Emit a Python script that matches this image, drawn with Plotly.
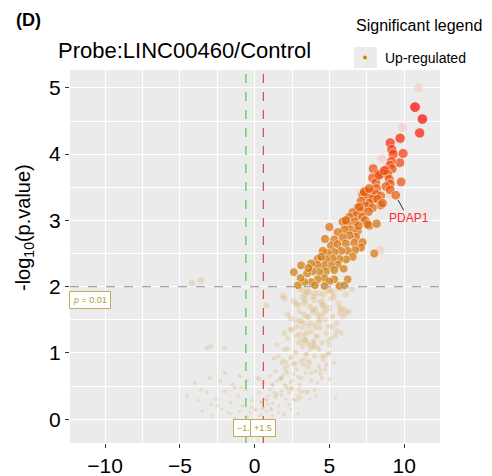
import plotly.graph_objects as go

# ---------------- data ----------------
# significant up-regulated genes: log2 fold change, -log10(p)
sig_x = [10.73, 11.22, 11.04,
         9.73, 9.07, 9.18, 9.27, 9.93, 9.71, 9.15, 9.05, 9.20, 8.78, 8.51, 7.93, 8.24, 8.89,
         9.00, 9.07, 8.78, 9.07, 9.80, 9.44, 7.89, 8.11, 8.16, 7.44, 7.78, 8.11, 8.44, 7.22,
         7.56, 7.89, 8.22, 8.44, 7.67, 7.11, 7.44, 7.89, 6.89, 7.18, 7.62, 6.56, 6.82, 6.33,
         7.22, 8.33, 8.67, 7.33, 7.67, 8.56, 7.40,
         7.67, 6.71, 6.22, 5.89, 6.44, 6.00, 5.56, 6.89, 6.78, 6.33, 5.89, 5.33, 4.71, 5.11,
         5.56, 6.11, 6.67, 7.22, 7.11, 6.71, 6.22, 5.78, 5.33, 4.89, 4.56, 6.56, 6.11, 5.67,
         5.22, 4.78, 4.22, 5.56, 5.11, 4.62, 4.18, 3.78, 4.78, 4.33, 3.89, 3.51, 2.62, 5.33,
         5.96, 6.22, 5.33, 4.67, 4.22, 3.78, 3.33, 3.07, 2.89, 5.00, 5.67, 6.00, 4.67, 4.04,
         8.00, 3.11, 8.16, 7.56, 6.10, 6.95, 7.00, 5.00, 4.45, 3.60]
sig_y = [4.71, 4.53, 4.32,
         4.24, 4.17, 4.07, 4.00, 4.01, 3.87, 3.89, 3.83, 3.78, 3.76, 3.71, 3.78, 3.70, 3.70,
         3.62, 3.55, 3.51, 3.46, 3.58, 3.38, 3.64, 3.57, 3.48, 3.44, 3.42, 3.40, 3.37, 3.39,
         3.34, 3.32, 3.32, 3.23, 3.26, 3.29, 3.22, 3.19, 3.19, 3.14, 3.13, 3.12, 3.08, 3.05,
         3.05, 3.68, 3.75, 3.43, 3.48, 3.26, 3.00,
         2.92, 2.98, 2.94, 2.98, 2.86, 2.86, 2.82, 2.84, 2.75, 2.77, 2.74, 2.71, 2.72, 2.62,
         2.64, 2.65, 2.66, 2.67, 2.59, 2.55, 2.54, 2.54, 2.52, 2.51, 2.54, 2.45, 2.41, 2.42,
         2.42, 2.41, 2.42, 2.33, 2.32, 2.32, 2.33, 2.35, 2.23, 2.22, 2.23, 2.20, 2.22, 2.25,
         2.27, 2.11, 2.11, 2.13, 2.11, 2.07, 2.07, 2.13, 2.02, 2.08, 2.01, 2.02, 2.01, 2.02,
         2.50, 2.32, 2.95, 2.94, 3.00, 2.92, 3.20, 2.90, 2.45, 2.28]

# faded (labelled, semi-transparent) points
faded_x = [10.96, 9.89, 8.51, 9.05, 8.40]
faded_y = [5.00, 4.40, 3.93, 3.39, 2.55]

# non-significant genes
ns_x = [2.0, 2.6, 3.2, 3.6, 4.0, 4.4, 3.7, 4.9, 5.3, 5.6, 6.1, 6.5, 3.0, 4.6, 5.0, 2.9,
        3.0, 3.5, 3.9, 4.3, 4.6, 5.2, 5.9, 5.5, 4.0, 3.3, 2.7, 4.9, 6.3, 5.7, 4.1, 3.6,
        2.5, 3.0, 3.4, 3.8, 4.2, 4.5, 4.8, 5.1, 5.5, 3.6, 2.9, 4.0, 2.2, 5.8, 4.4, 3.2, 5.0, 2.0,
        1.6, 2.0, 2.4, 2.8, 3.1, 3.4, 3.7, 4.0, 4.3, 4.6, 5.0, 5.3, 2.6, 3.2, 3.9, 1.8, 4.8, 2.2,
        0.6, 1.0, 1.4, 1.8, 2.2, 2.5, 2.8, 3.1, 3.4, 3.8, 4.1, 4.5, 1.2, 2.0, 3.0, 3.6, 0.2,
        -0.5, -1.5, -2.3, -3.0, -4.0, -3.6, -2.0, -1.0, 4.3,
        -4.5, -3.8, -3.2, -2.6, -2.0, -1.6, -1.1, -0.6, -0.2, 0.3, 0.7, 1.0, 1.4, 1.8, 2.1,
        2.5, 2.9, 3.3, 3.7, 1.6, 0.9, -2.9, -1.3, 2.3,
        -3.5, -2.8, -2.2, -1.6, -1.0, -0.5, 0.0, 0.4, 0.8, 1.2, 1.6, 2.0, 2.4, -0.2, 0.6,
        -1.3, 1.0, -0.8,
        -3.6, -3.2, -2.93, -2.0,
        3.3, 3.8, 4.2, 4.7, 3.5, 4.1, 4.5, 5.0, 3.1, 3.7, 4.4, 2.8, 3.3, 4.0, 2.4, 3.0, 3.5,
        2.6, 3.2, 1.5, 2.1, 2.7, 0.9, 1.3, 1.9, 3.5, 4.1, 5.4, 2.3, 3.9, 4.7, 5.2, 6.0, 3.4,
        4.2, 2.9, 3.6, 1.1, 0.3, 2.6, 3.3, 4.6,
        3.4, 3.9, 4.5, 5.1, 5.7, 2.4, 3.1, 4.8, 5.4, 3.7, 4.2, 2.7, 3.4, 4.0, 4.9, 2.1, 2.9,
        3.6, 4.4, 1.7, 2.4, 3.1, 1.4, 2.0, 2.6, 0.5, 1.1, 1.8, -0.3, 0.4, 1.3, -1.8, -0.9,
        -2.5, -4.2, 4.7, 5.5, 3.2, 2.2, 1.9,
        3.5, 4.3, 5.0, 5.8, 2.8, 3.3, 3.9, 4.6, 5.2, 2.4, 3.0, 3.6, 4.3, 4.9, 2.2, 2.8, 3.5,
        4.1, 4.7, 1.9, 2.5, 3.2, 3.8, 4.4, 1.5, 2.1, 2.8, 3.4, 4.0, 1.2, 1.8, 2.5, 3.1, 0.8,
        1.5, 2.2, 2.9, 0.5, 1.2, 1.9, 0.1, 0.8, 6.1, 5.6, 5.9, 4.0, 4.6, 3.0]
ns_y = [1.82, 1.78, 1.84, 1.93, 1.90, 1.76, 1.70, 1.95, 1.85, 1.75, 1.88, 1.96, 1.97, 1.72, 1.68, 1.72,
        1.63, 1.55, 1.62, 1.50, 1.60, 1.55, 1.55, 1.45, 1.42, 1.45, 1.50, 1.40, 1.62, 1.68, 1.66, 1.40,
        1.35, 1.28, 1.20, 1.32, 1.25, 1.15, 1.30, 1.22, 1.33, 1.12, 1.15, 1.10, 1.22, 1.30, 1.38, 1.38, 1.12, 1.30,
        0.95, 1.05, 0.92, 1.00, 0.88, 0.98, 0.85, 0.95, 1.05, 0.90, 1.00, 0.85, 0.82, 1.08, 1.08, 0.85, 0.82, 0.80,
        0.55, 0.65, 0.72, 0.60, 0.70, 0.58, 0.75, 0.62, 0.70, 0.58, 0.72, 0.62, 0.52, 0.78, 0.52, 0.78, 0.62,
        0.58, 0.52, 0.58, 0.62, 0.55, 0.45, 0.70, 0.65, 0.80,
        0.35, 0.28, 0.40, 0.30, 0.42, 0.25, 0.35, 0.45, 0.28, 0.40, 0.30, 0.45, 0.35, 0.42, 0.30,
        0.45, 0.35, 0.42, 0.30, 0.20, 0.22, 0.22, 0.48, 0.22,
        0.12, 0.05, 0.15, 0.08, 0.12, 0.04, 0.14, 0.06, 0.12, 0.05, 0.10, 0.08, 0.15, 0.18, 0.18,
        0.02, 0.00, 0.20,
        2.09, 1.07, 1.10, 1.08,
        0.90, 0.70, 0.55, 0.75, 0.40, 0.35, 0.95, 0.60, 1.20, 1.05, 1.55, 1.40, 1.75, 1.80, 0.55,
        0.45, 0.98, 0.68, 0.82, 1.12, 0.50, 0.28, 0.35, 0.92, 0.66, 1.16, 1.25, 0.32, 0.40, 1.18,
        1.50, 1.92, 1.65, 1.88, 1.58, 0.30, 0.42, 0.15, 0.60, 0.85, 1.27,
        1.88, 1.80, 1.85, 1.78, 1.82, 1.60, 1.52, 1.48, 1.64, 1.26, 1.45, 1.08, 1.02, 1.20, 1.16,
        0.98, 0.86, 0.64, 0.88, 0.68, 0.62, 0.46, 0.40, 0.33, 0.52, 0.30, 0.25, 0.16, 0.36, 0.10,
        0.26, 0.40, 0.10, 0.48, 0.20, 2.05, 2.08, 2.04, 1.95, 1.58,
        1.86, 1.92, 1.90, 1.94, 1.66, 1.74, 1.58, 1.66, 1.70, 1.40, 1.36, 1.48, 1.54, 1.46, 1.18,
        1.06, 1.26, 1.30, 1.38, 0.96, 0.88, 0.94, 1.14, 1.12, 0.74, 0.58, 0.72, 0.84, 0.82, 0.44,
        0.52, 0.62, 0.48, 0.32, 0.28, 0.38, 0.46, 0.08, 0.16, 0.24, 0.06, 0.14, 1.72, 1.60, 1.98,
        1.98, 2.02, 2.00]

x_ticks = [-10, -5, 0, 5, 10]
y_ticks = [0, 1, 2, 3, 4, 5]
fc_cut = 0.585   # log2(1.5)
p_cut = 2.0      # -log10(0.01)
label_gene = "PDAP1"
label_xy = (9.44, 3.38)
label_pos = (10.33, 3.03)

FONT = "Liberation Sans, Arial, sans-serif"
OFF = 8                       # page body margin of the html page
W, H = 492 - OFF, 476 - OFF   # figure size so the page fits the window
# panel in window pixels: left 70, right 440, top 70, bottom 443
L, T = 70 - OFF, 70 - OFF
R, B = W - (440 - OFF), H - (443 - OFF)
PW, PH = W - L - R, H - T - B


def px(xw):
    """window x pixel -> paper fraction"""
    return (xw - OFF - L) / PW


def py(yw):
    """window y pixel -> paper fraction"""
    return (H - B - (yw - OFF)) / PH


fig = go.Figure()

# non-significant cloud
fig.add_trace(go.Scatter(
    x=ns_x, y=ns_y, mode="markers", showlegend=False, hoverinfo="skip",
    marker=dict(color="#DDB163", opacity=0.28,
                size=[3.0 + 1.8 * v for v in ns_y], line=dict(width=0))))

# faded labelled points
fig.add_trace(go.Scatter(
    x=faded_x, y=faded_y, mode="markers", showlegend=False, hoverinfo="skip",
    marker=dict(color="#F2CBBE", opacity=0.6, size=9, line=dict(width=0))))

# significant up-regulated
fig.add_trace(go.Scatter(
    x=sig_x, y=sig_y, mode="markers", showlegend=False, name="Up-regulated",
    marker=dict(color=sig_y, cmin=2.0, cmax=4.6,
                colorscale=[[0, "#CC7E08"], [0.35, "#DE6A08"], [0.7, "#EE4C0E"], [1, "#FF0000"]],
                size=[8.5 + 0.8 * (v - 2) for v in sig_y],
                line=dict(color="white", width=0.7))))

# legend-only key
fig.add_trace(go.Scatter(
    x=[None], y=[None], mode="markers", name="Up-regulated", showlegend=True,
    marker=dict(color="#CC8800", size=4)))

# reference lines
fig.add_shape(type="line", xref="x", yref="paper", x0=-fc_cut, x1=-fc_cut, y0=0, y1=1,
              line=dict(color="#44CC44", width=1.2, dash="dash"), layer="above")
fig.add_shape(type="line", xref="x", yref="paper", x0=fc_cut, x1=fc_cut, y0=0, y1=1,
              line=dict(color="#E04A4A", width=1.2, dash="dash"), layer="above")
fig.add_shape(type="line", xref="paper", yref="y", x0=0, x1=1, y0=p_cut, y1=p_cut,
              line=dict(color="#A5A5A5", width=1.2, dash="dash"), layer="above")

# gene label leader line
fig.add_shape(type="line", xref="x", yref="y",
              x0=label_xy[0] + 0.15, y0=label_xy[1] - 0.07,
              x1=label_pos[0] - 0.35, y1=label_pos[1] + 0.12,
              line=dict(color="#333333", width=1))

# legend key background
fig.add_shape(type="rect", xref="paper", yref="paper",
              x0=px(354), x1=px(377), y0=py(68), y1=py(47),
              fillcolor="#EBEBEB", line=dict(width=0), layer="below")

box_font = dict(family=FONT, size=9, color="#B09A40")
fig.add_annotation(x=-11.0, y=1.80, xref="x", yref="y", text="<i>p</i> = 0.01", showarrow=False,
                   font=box_font, bgcolor="white", bordercolor="#C2AC5A", borderwidth=1, borderpad=3)
fig.add_annotation(x=-fc_cut, y=-0.14, xref="x", yref="y", text="−1.5", showarrow=False,
                   font=box_font, bgcolor="white", bordercolor="#C2AC5A", borderwidth=1, borderpad=3)
fig.add_annotation(x=fc_cut, y=-0.14, xref="x", yref="y", text="+1.5", showarrow=False,
                   font=box_font, bgcolor="white", bordercolor="#C2AC5A", borderwidth=1, borderpad=3)

fig.add_annotation(x=label_pos[0], y=label_pos[1], xref="x", yref="y", text=label_gene,
                   showarrow=False, font=dict(family=FONT, size=12, color="#FF2A2A"))

# titles
fig.add_annotation(x=px(14), y=py(20), xref="paper", yref="paper",
                   text="<b>(D)</b>", showarrow=False, xanchor="left", yanchor="middle",
                   font=dict(family=FONT, size=18, color="black"))
fig.add_annotation(x=px(25), y=py(228), xref="paper", yref="paper",
                   text="-log<sub>10</sub>(p.value)", showarrow=False, textangle=-90,
                   xanchor="center", yanchor="middle",
                   font=dict(family=FONT, size=20, color="black"))
fig.add_annotation(x=px(354), y=py(26), xref="paper", yref="paper",
                   text="Significant legend", showarrow=False, xanchor="left", yanchor="middle",
                   font=dict(family=FONT, size=16, color="black"))

fig.update_layout(
    width=W, height=H,
    margin=dict(l=L, r=R, t=T, b=B, autoexpand=False),
    paper_bgcolor="white", plot_bgcolor="#EBEBEB",
    font=dict(family=FONT, color="black"),
    title=dict(text="Probe:LINC00460/Control", x=(58 - OFF) / W, xanchor="left",
               y=1 - (50 - OFF) / H, yanchor="middle", xref="container", yref="container",
               font=dict(family=FONT, size=22, color="black")),
    showlegend=True,
    legend=dict(x=px(345), y=py(42), xanchor="left", yanchor="top",
                bgcolor="rgba(0,0,0,0)", font=dict(family=FONT, size=14, color="black")),
)
fig.update_xaxes(range=[-12.35, 12.4], tickvals=x_ticks, ticks="outside", ticklen=4,
                 tickcolor="#333333", tickfont=dict(family=FONT, size=21, color="black"),
                 showgrid=True, gridcolor="white", gridwidth=1.1, zeroline=False,
                 minor=dict(dtick=2.5, tick0=0, showgrid=True, gridcolor="white", gridwidth=0.5),
                 showline=False, fixedrange=True)
fig.update_yaxes(range=[-0.36, 5.27], tickvals=y_ticks, ticks="outside", ticklen=4,
                 tickcolor="#333333", tickfont=dict(family=FONT, size=21, color="black"),
                 showgrid=True, gridcolor="white", gridwidth=1.1, zeroline=False,
                 minor=dict(dtick=0.5, tick0=0, showgrid=True, gridcolor="white", gridwidth=0.5),
                 showline=False, fixedrange=True)

fig.write_html("out.html")
